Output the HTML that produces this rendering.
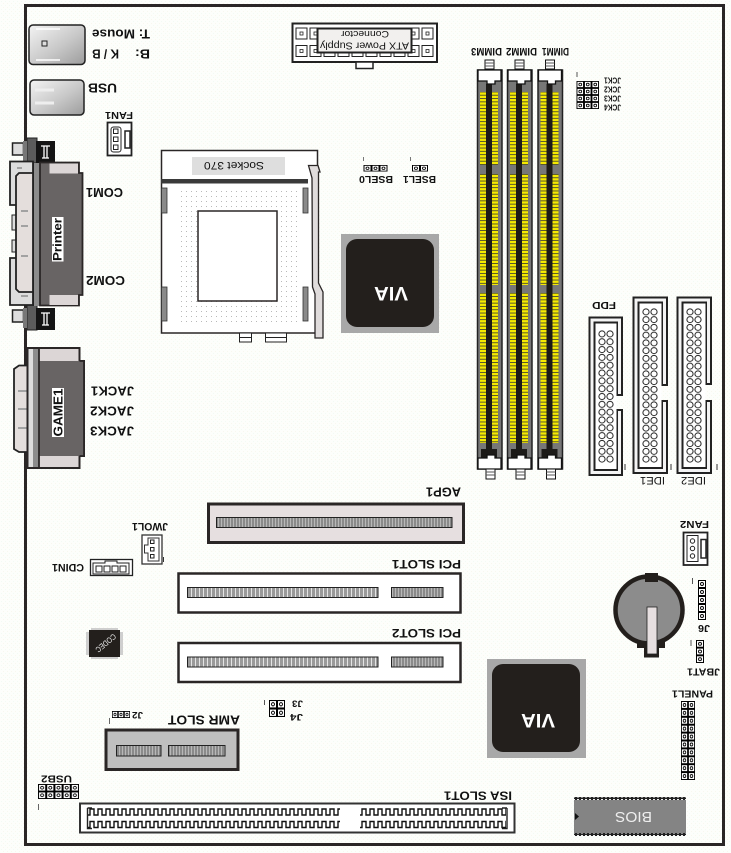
<!DOCTYPE html>
<html><head><meta charset="utf-8"><style>
html,body{margin:0;padding:0;background:#fcfefa;width:731px;height:853px;overflow:hidden}
svg{display:block}
text{font-family:"Liberation Sans",sans-serif;fill:#111}
.b{font-weight:bold}
</style></head><body>
<svg xmlns="http://www.w3.org/2000/svg" width="731" height="853" viewBox="0 0 731 853">
<defs>
<pattern id="bg" width="4" height="4" patternUnits="userSpaceOnUse"><rect width="4" height="4" fill="#fdfefb"/><rect x="1" y="1" width="1" height="1" fill="#f2fbf4"/><rect x="3" y="3" width="1" height="1" fill="#f8f8ee"/></pattern>
<pattern id="pin" width="8" height="8" patternUnits="userSpaceOnUse"><rect x=".5" y=".5" width="7" height="7" fill="#fff" stroke="#000"/><circle cx="4" cy="4" r="1.5" fill="#fff" stroke="#000" stroke-width=".9"/></pattern>
<pattern id="atx" width="14" height="13" patternUnits="userSpaceOnUse"><rect x="1" y="1" width="11" height="11" fill="#fff" stroke="#222"/><rect x="5" y="5" width="3" height="3" fill="#fff" stroke="#222" stroke-width=".8"/></pattern>
<pattern id="cir" width="8" height="8" patternUnits="userSpaceOnUse"><circle cx="4" cy="4" r="3.1" fill="#fff" stroke="#222" stroke-width="1"/></pattern>
<pattern id="st" width="4" height="4" patternUnits="userSpaceOnUse"><rect width="4" height="4" fill="#9a9a9a"/><rect x="3" width="1" height="4" fill="#e4e4e4"/></pattern>
<pattern id="st2" width="3" height="4" patternUnits="userSpaceOnUse"><rect width="3" height="4" fill="#8a8a8a"/><rect x="2" width="1" height="4" fill="#b8b8b8"/></pattern>
<pattern id="yl" width="3" height="3.3" patternUnits="userSpaceOnUse"><rect width="3" height="3.3" fill="#f5ea00"/><rect y="2.4" width="3" height=".9" fill="#4a4a30"/></pattern>
<pattern id="dots" width="5" height="5" patternUnits="userSpaceOnUse"><rect x="1" y="1" width="1" height="1" fill="#b9b9b9"/></pattern>
<pattern id="isa" width="8" height="8" patternUnits="userSpaceOnUse"><path d="M0 7H2V1H6V7H8" fill="none" stroke="#111" stroke-width="1.400"/></pattern>
<pattern id="dash" width="4" height="3" patternUnits="userSpaceOnUse"><rect width="4" height="3" fill="#222"/><rect x="1" y="1" width="2" height="1.5" fill="#eee"/></pattern>
<linearGradient id="gr" x1="0" y1="0" x2="1" y2="1"><stop offset="0" stop-color="#f4f4f4"/><stop offset=".55" stop-color="#c8c8c8"/><stop offset="1" stop-color="#9c9c9c"/></linearGradient>
<g id="dimm">
<rect x="477.5" y="70" width="24.500" height="399" fill="#777" stroke="#222" stroke-width="1.500"/>
<rect x="480" y="92" width="6" height="73" fill="url(#yl)"/><rect x="492" y="92" width="6" height="73" fill="url(#yl)"/>
<rect x="480" y="174" width="6" height="111" fill="url(#yl)"/><rect x="492" y="174" width="6" height="111" fill="url(#yl)"/>
<rect x="480" y="293" width="6" height="150" fill="url(#yl)"/><rect x="492" y="293" width="6" height="150" fill="url(#yl)"/>
<rect x="486" y="84" width="6" height="372" fill="#1c1a18"/>
<path d="M486 443H492V449H497V458H481V449H486Z" fill="#1c1a18"/>
<path d="M478 70H501V81H495V84H487V81H478Z" fill="#fff" stroke="#111" stroke-width="1.300"/>
<path d="M478 469H501V458H495V455H487V458H478Z" fill="#fff" stroke="#111" stroke-width="1.300"/>
<rect x="485" y="60" width="9" height="9" fill="#fff" stroke="#111"/><path d="M485 63H494M485 66H494" stroke="#555"/>
<rect x="486" y="469" width="9" height="10" fill="#fff" stroke="#111"/><path d="M486 472H495M486 475H495" stroke="#555"/>
</g>
<g id="screw"><rect x="27" y="0" width="10" height="25" fill="#5c5c5c" stroke="#222"/><rect x="36" y="3" width="19" height="22" fill="#141414"/><path d="M41 8H50M44 8V20M47 8V20M42 20H49" stroke="#fff" stroke-width="1.300" fill="none"/><rect x="12.500" y="5" width="11" height="12" fill="#ddd" stroke="#222" stroke-width="1.500"/><rect x="23" y="3" width="4" height="20" fill="#777"/></g>
</defs>
<rect width="731" height="853" fill="url(#bg)"/>
<rect x="25.500" y="5.500" width="698" height="839" fill="none" stroke="#2a2626" stroke-width="3"/>

<!-- PS2 / USB -->
<rect x="29" y="25" width="56" height="39.500" rx="4" fill="url(#gr)" stroke="#222" stroke-width="1.500"/>
<path d="M36 29H60M36 60H60" stroke="#fff" stroke-width="1.500"/><rect x="42" y="41" width="5" height="5" fill="#ddd" stroke="#222"/>
<rect x="30" y="80" width="54" height="35" rx="4" fill="url(#gr)" stroke="#222" stroke-width="1.500"/>
<path d="M35 90H54M35 103H54" stroke="#eee" stroke-width="3"/>
<text class="b" transform="translate(150,29.600) rotate(180)" font-size="13" textLength="58" lengthAdjust="spacingAndGlyphs">T: Mouse</text>
<text class="b" transform="translate(150,49.600) rotate(180)" font-size="13" textLength="15" lengthAdjust="spacingAndGlyphs">B:</text>
<text class="b" transform="translate(119,49.600) rotate(180)" font-size="13" textLength="27" lengthAdjust="spacingAndGlyphs">K / B</text>
<text class="b" transform="translate(117,83.600) rotate(180)" font-size="13" textLength="29" lengthAdjust="spacingAndGlyphs">USB</text>
<text class="b" transform="translate(133,111.800) rotate(180)" font-size="10" textLength="28" lengthAdjust="spacingAndGlyphs">FAN1</text>

<!-- FAN1 -->
<rect x="107.500" y="122.500" width="24" height="33" fill="#fff" stroke="#222" stroke-width="1.800"/>
<rect x="111" y="127" width="10" height="25" rx="2.500" fill="#fff" stroke="#222"/>
<rect x="113.500" y="129" width="4.500" height="4.500" fill="#fff" stroke="#222"/><rect x="113.500" y="137" width="4.500" height="4.500" fill="#fff" stroke="#222"/><rect x="113.500" y="145" width="4.500" height="4.500" fill="#fff" stroke="#222"/>
<path d="M125 131H130V148H125Z" fill="#fff" stroke="#222" stroke-width="1.500"/>

<!-- COM -->
<use href="#screw" transform="translate(0,138)"/>
<use href="#screw" transform="translate(0,305)"/>
<path d="M10 161.500H33V205H10Z" fill="#ddd" stroke="#222" stroke-width="1.800"/>
<path d="M10 258H33V305H10Z" fill="#ddd" stroke="#222" stroke-width="1.800"/>
<rect x="12" y="215" width="6" height="15" fill="#ddd" stroke="#222"/>
<rect x="12" y="240" width="6" height="12" fill="#ddd" stroke="#222"/>
<path d="M19 173H33V292H19L16 289V176Z" fill="#e4dedc" stroke="#222" stroke-width="1.800"/>
<rect x="33" y="163" width="6.500" height="143" fill="#8c8c8c"/>
<rect x="33" y="163" width="1" height="143" fill="#222"/>
<path d="M40 162.500H79V173H82.500V295H79V305.500H40Z" fill="#686464" stroke="#2a2626" stroke-width="1.800"/>
<rect x="49.500" y="163.500" width="28.500" height="10" fill="#dcd6d6"/>
<rect x="49.500" y="295" width="28.500" height="10" fill="#dcd6d6"/>
<path d="M21 211H28M21 226H28M21 256H28M21 296H28M17 168H22" stroke="#999" stroke-width="1.800"/>
<rect x="52" y="217" width="11.500" height="44.500" fill="#fff"/>
<text class="b" transform="translate(61.500,261) rotate(-90)" font-size="12" textLength="43" lengthAdjust="spacingAndGlyphs">Printer</text>
<text class="b" transform="translate(123,188) rotate(180)" font-size="12.500" textLength="37" lengthAdjust="spacingAndGlyphs">COM1</text>
<text class="b" transform="translate(125,276) rotate(180)" font-size="12.500" textLength="39" lengthAdjust="spacingAndGlyphs">COM2</text>

<!-- GAME -->
<path d="M19 365.500H28V452H19L14 449V369Z" fill="#e4dedc" stroke="#222" stroke-width="1.800"/>
<path d="M18 391H27M18 409H27M18 428H27" stroke="#999" stroke-width="1.800"/>
<rect x="28" y="348.500" width="5" height="119" fill="#ddd"/>
<rect x="33" y="348.500" width="6.500" height="119" fill="#8c8c8c"/>
<path d="M27.500 348H79.500V361H84V456H79.500V468H27.500Z" fill="none" stroke="#2a2626" stroke-width="2"/>
<rect x="39" y="349" width="39.500" height="118" fill="#dcd6d6"/>
<rect x="39" y="361" width="45" height="95" fill="#686464"/>
<path d="M79.500 361H84V456H79.500M39 349V467" fill="none" stroke="#2a2626" stroke-width="1.800"/>
<rect x="52" y="388" width="12" height="49" fill="#fff"/>
<text class="b" transform="translate(62.500,436.500) rotate(-90)" font-size="13" textLength="48" lengthAdjust="spacingAndGlyphs">GAME1</text>
<text class="b" transform="translate(134,386.600) rotate(180)" font-size="13" textLength="43" lengthAdjust="spacingAndGlyphs">JACK1</text>
<text class="b" transform="translate(134,406.600) rotate(180)" font-size="13" textLength="44" lengthAdjust="spacingAndGlyphs">JACK2</text>
<text class="b" transform="translate(134,426.600) rotate(180)" font-size="13" textLength="44" lengthAdjust="spacingAndGlyphs">JACK3</text>

<!-- ATX -->
<rect x="292.500" y="23.500" width="144.500" height="38.500" fill="#fff" stroke="#222" stroke-width="2"/>
<svg x="295" y="27" width="140" height="13" viewBox="0 0 140 13"><rect width="140" height="13" fill="url(#atx)"/></svg>
<svg x="295" y="44.500" width="140" height="13" viewBox="0 0 140 13"><rect width="140" height="13" fill="url(#atx)"/></svg>
<rect x="317.500" y="28.500" width="94" height="24" fill="#f2f0ee" stroke="#222" stroke-width="2"/>
<text transform="translate(389,31) rotate(180)" font-size="9" textLength="48" lengthAdjust="spacingAndGlyphs">Connector</text>
<text transform="translate(409,42.500) rotate(180)" font-size="10" textLength="89" lengthAdjust="spacingAndGlyphs">ATX Power Supply</text>
<rect x="356" y="62" width="17" height="6.500" fill="#fff" stroke="#222" stroke-width="1.500"/>

<!-- Socket -->
<rect x="161.500" y="150.500" width="156" height="182.500" fill="#fff" stroke="#2a2626" stroke-width="1.500"/>
<rect x="177" y="188" width="121" height="137" fill="url(#dots)"/>
<rect x="192" y="157" width="93" height="18" fill="#dedede"/>
<text transform="translate(264,162) rotate(180)" font-size="11" fill="#444" textLength="60" lengthAdjust="spacingAndGlyphs">Socket 370</text>
<rect x="161" y="179" width="147" height="4.500" fill="#3a3a3a"/>
<rect x="198" y="211" width="79" height="90" fill="#fff" stroke="#2a2626" stroke-width="1.500"/>
<rect x="161.500" y="188" width="5.500" height="25" fill="#8a8a8a" stroke="#333" stroke-width=".8"/>
<rect x="161.500" y="287" width="5.500" height="34" fill="#8a8a8a" stroke="#333" stroke-width=".8"/>
<rect x="303" y="188" width="5" height="25" fill="#8a8a8a" stroke="#333" stroke-width=".8"/>
<rect x="303" y="287" width="5" height="34" fill="#8a8a8a" stroke="#333" stroke-width=".8"/>
<path d="M308.500 165.500H318L320 172H318.500V283L323 292V338H315V294L312.500 287L312 178Z" fill="#e0dcdc" stroke="#2a2626" stroke-width="1.300"/>
<rect x="239.500" y="333" width="12" height="9" fill="#fff" stroke="#222"/><path d="M239.500 337.500H251.500" stroke="#222"/>
<rect x="265.500" y="333" width="21" height="9" fill="#fff" stroke="#222"/><path d="M265.500 337.500H286.500" stroke="#222"/>

<!-- BSEL -->
<svg x="412" y="165" width="16" height="6.500" viewBox="0 0 16 8" preserveAspectRatio="none"><rect width="16" height="8" fill="url(#pin)"/></svg>
<svg x="363.500" y="165" width="24" height="6.500" viewBox="0 0 24 8" preserveAspectRatio="none"><rect width="24" height="8" fill="url(#pin)"/></svg>
<path d="M410.500 157V161M363.500 157V161" stroke="#777"/>
<text class="b" transform="translate(436,176) rotate(180)" font-size="10" textLength="33" lengthAdjust="spacingAndGlyphs">BSEL1</text>
<text class="b" transform="translate(393,176) rotate(180)" font-size="10" textLength="34" lengthAdjust="spacingAndGlyphs">BSEL0</text>

<!-- VIA -->
<rect x="341" y="234" width="98" height="99" fill="#a8a8a8"/>
<rect x="346" y="239" width="88" height="88" rx="11" fill="#231f1c"/>
<text class="b" transform="translate(408,287) rotate(180)" font-size="19" style="fill:#fff" textLength="34" lengthAdjust="spacingAndGlyphs">VIA</text>
<rect x="487" y="659" width="99" height="99" fill="#a8a8a8"/>
<rect x="492" y="664" width="88" height="88" rx="11" fill="#231f1c"/>
<text class="b" transform="translate(555,714) rotate(180)" font-size="19" style="fill:#fff" textLength="34" lengthAdjust="spacingAndGlyphs">VIA</text>

<!-- DIMM -->
<use href="#dimm"/>
<use href="#dimm" transform="translate(30,0)"/>
<use href="#dimm" transform="translate(60.500,0)"/>
<text class="b" transform="translate(502,48) rotate(180)" font-size="11" textLength="31" lengthAdjust="spacingAndGlyphs">DIMM3</text>
<text class="b" transform="translate(537,48) rotate(180)" font-size="11" textLength="31" lengthAdjust="spacingAndGlyphs">DIMM2</text>
<text class="b" transform="translate(569,48) rotate(180)" font-size="11" textLength="27" lengthAdjust="spacingAndGlyphs">DIMM1</text>

<!-- JCK -->
<svg x="576.500" y="81" width="22.500" height="28" viewBox="0 0 24 32" preserveAspectRatio="none"><rect width="24" height="32" fill="url(#pin)"/></svg>
<path d="M577 72V77" stroke="#555"/>
<text class="b" transform="translate(621,77.500) rotate(180)" font-size="8" textLength="17" lengthAdjust="spacingAndGlyphs">JCK1</text>
<text class="b" transform="translate(621,86.500) rotate(180)" font-size="8" textLength="17" lengthAdjust="spacingAndGlyphs">JCK2</text>
<text class="b" transform="translate(621,95.500) rotate(180)" font-size="8" textLength="17" lengthAdjust="spacingAndGlyphs">JCK3</text>
<text class="b" transform="translate(621,104.500) rotate(180)" font-size="8" textLength="17" lengthAdjust="spacingAndGlyphs">JCK4</text>

<!-- FDD / IDE -->
<path d="M622 395V317.500H589.500V475H622V410H617V470H594.500V322.500H617V395Z" fill="#f4f4f4" stroke="#222" stroke-width="2"/>
<rect x="595.500" y="323.500" width="21" height="146" fill="#fff"/>
<path d="M617 322.500H594.500V470H617" fill="none" stroke="#222" stroke-width="2"/>
<svg x="598" y="330" width="16" height="133" viewBox="0 0 16 136" preserveAspectRatio="none"><rect width="16" height="136" fill="url(#cir)"/></svg>
<path d="M667 385V297.500H633.500V473H667V401H662V468H638.500V302.500H662V385Z" fill="#f4f4f4" stroke="#222" stroke-width="2"/>
<rect x="639.500" y="303.500" width="22" height="164" fill="#fff"/>
<path d="M662 302.500H638.500V468H662" fill="none" stroke="#222" stroke-width="2"/>
<svg x="642" y="308" width="16" height="155" viewBox="0 0 16 160" preserveAspectRatio="none"><rect width="16" height="160" fill="url(#cir)"/></svg>
<path d="M711 384V297.500H677.500V473H711V401H706V468H682.500V302.500H706V384Z" fill="#f4f4f4" stroke="#222" stroke-width="2"/>
<rect x="683.500" y="303.500" width="22" height="164" fill="#fff"/>
<path d="M706 302.500H682.500V468H706" fill="none" stroke="#222" stroke-width="2"/>
<svg x="686" y="308" width="16" height="155" viewBox="0 0 16 160" preserveAspectRatio="none"><rect width="16" height="160" fill="url(#cir)"/></svg>
<text transform="translate(616,302) rotate(180)" font-size="10" class="b" textLength="24" lengthAdjust="spacingAndGlyphs">FDD</text>
<text transform="translate(665,477) rotate(180)" font-size="11" textLength="25" lengthAdjust="spacingAndGlyphs">IDE1</text>
<text transform="translate(706,477) rotate(180)" font-size="11" textLength="25" lengthAdjust="spacingAndGlyphs">IDE2</text>
<path d="M625 464V470M671 464V470M717 464V470" stroke="#333"/>

<!-- AGP -->
<rect x="208.500" y="504" width="255" height="38.500" fill="#e6dfe0" stroke="#2a2626" stroke-width="3"/>
<rect x="216.500" y="517.500" width="235.500" height="10" fill="url(#st2)" stroke="#222"/>
<text class="b" transform="translate(461,487.500) rotate(180)" font-size="13" textLength="35" lengthAdjust="spacingAndGlyphs">AGP1</text>
<!-- PCI -->
<rect x="178.500" y="573.500" width="282" height="39" fill="#fff" stroke="#2a2626" stroke-width="2.500"/>
<rect x="187.500" y="587.500" width="190.500" height="10" fill="url(#st)" stroke="#222"/>
<rect x="391.500" y="587.500" width="51.500" height="10" fill="url(#st2)" stroke="#222"/>
<text class="b" transform="translate(461,560) rotate(180)" font-size="12" textLength="69" lengthAdjust="spacingAndGlyphs">PCI SLOT1</text>
<rect x="178.500" y="643" width="282" height="39" fill="#fff" stroke="#2a2626" stroke-width="2.500"/>
<rect x="187.500" y="657" width="190.500" height="10" fill="url(#st)" stroke="#222"/>
<rect x="391.500" y="657" width="51.500" height="10" fill="url(#st2)" stroke="#222"/>
<text class="b" transform="translate(461,629) rotate(180)" font-size="12" textLength="69" lengthAdjust="spacingAndGlyphs">PCI SLOT2</text>

<!-- JWOL / CDIN / CODEC -->
<text class="b" transform="translate(168,523) rotate(180)" font-size="11" textLength="36" lengthAdjust="spacingAndGlyphs">JWOL1</text>
<rect x="142" y="535" width="20" height="29" fill="#fff" stroke="#333" stroke-width="1.300"/>
<path d="M148 538H159V561H148V553H144.500V545H148Z" fill="#fff" stroke="#333"/>
<rect x="150.500" y="540" width="3.500" height="3.500" fill="#fff" stroke="#222"/><rect x="150.500" y="547.500" width="3.500" height="3.500" fill="#fff" stroke="#222"/><rect x="150.500" y="554.500" width="3.500" height="3.500" fill="#fff" stroke="#222"/>
<path d="M163.500 557V562" stroke="#333"/>
<text class="b" transform="translate(84,564) rotate(180)" font-size="11" textLength="32" lengthAdjust="spacingAndGlyphs">CDIN1</text>
<rect x="90.500" y="559.500" width="42" height="16" fill="#fff" stroke="#222" stroke-width="1.300"/>
<path d="M93 563H105V561H117V563H129V574H93Z" fill="#fff" stroke="#222"/>
<rect x="96" y="566" width="6" height="6" fill="#fff" stroke="#222"/><rect x="104" y="566" width="6" height="6" fill="#fff" stroke="#222"/><rect x="112" y="566" width="6" height="6" fill="#fff" stroke="#222"/><rect x="120" y="566" width="6" height="6" fill="#fff" stroke="#222"/>
<rect x="91" y="628" width="27" height="31" fill="#cfcfcf"/><rect x="86" y="632" width="37" height="23" fill="#cfcfcf"/>
<rect x="89" y="630" width="31" height="27" fill="#231f1c"/>
<text transform="translate(104,641) rotate(140)" text-anchor="middle" font-size="8" style="fill:#eee" textLength="24" lengthAdjust="spacingAndGlyphs">CODEC</text>

<!-- Battery -->
<circle cx="649" cy="610" r="33.500" fill="#8c8c8c" stroke="#231f1c" stroke-width="4.500"/>
<rect x="645" y="573" width="13" height="9" fill="#231f1c"/>
<rect x="637" y="641" width="28" height="7" fill="#231f1c"/>
<rect x="644" y="642" width="15" height="15.500" fill="#231f1c"/>
<rect x="647" y="607" width="10" height="47" fill="#e6dfe0" stroke="#222" stroke-width=".8"/>

<!-- FAN2 -->
<text class="b" transform="translate(709,521) rotate(180)" font-size="10" textLength="29" lengthAdjust="spacingAndGlyphs">FAN2</text>
<rect x="683.500" y="532.500" width="24" height="32.500" fill="#fff" stroke="#222" stroke-width="1.800"/>
<rect x="687" y="535.500" width="11" height="26" fill="#fff" stroke="#222"/>
<circle cx="692.500" cy="541" r="2.200" fill="#fff" stroke="#222"/><circle cx="692.500" cy="548.500" r="2.200" fill="#fff" stroke="#222"/><circle cx="692.500" cy="556" r="2.200" fill="#fff" stroke="#222"/>
<path d="M701 539.500H706V558H701Z" fill="#fff" stroke="#222" stroke-width="1.500"/>
<!-- J6 JBAT PANEL -->
<svg x="698" y="580" width="8" height="40" viewBox="0 0 8 40" preserveAspectRatio="none"><rect width="8" height="40" fill="url(#pin)"/></svg>
<text class="b" transform="translate(710,625) rotate(180)" font-size="10" textLength="12" lengthAdjust="spacingAndGlyphs">J6</text>
<path d="M692.500 578V584M691 640V646" stroke="#555"/>
<svg x="696" y="640" width="8" height="23" viewBox="0 0 8 24" preserveAspectRatio="none"><rect width="8" height="24" fill="url(#pin)"/></svg>
<text class="b" transform="translate(720,668.500) rotate(180)" font-size="10" textLength="33" lengthAdjust="spacingAndGlyphs">JBAT1</text>
<text class="b" transform="translate(713,690.500) rotate(180)" font-size="10" textLength="41" lengthAdjust="spacingAndGlyphs">PANEL1</text>
<svg x="681" y="701" width="14" height="79" viewBox="0 0 16 80" preserveAspectRatio="none"><rect width="16" height="80" fill="url(#pin)"/></svg>

<!-- BIOS -->
<rect x="574" y="797" width="112" height="39" fill="#848484"/>
<rect x="574" y="797" width="112" height="3" fill="url(#dash)"/>
<rect x="574" y="833" width="112" height="3" fill="url(#dash)"/>
<path d="M575 813L579 816.500L575 820Z" fill="#111"/>
<text transform="translate(652,812) rotate(180)" font-size="15" style="fill:#eee" textLength="37" lengthAdjust="spacingAndGlyphs">BIOS</text>

<!-- AMR -->
<rect x="106" y="730" width="132" height="39.500" fill="#bfbfbf" stroke="#2a2626" stroke-width="3"/>
<rect x="116.500" y="745.500" width="44.500" height="10.500" fill="url(#st2)" stroke="#222"/>
<rect x="168.500" y="745.500" width="56.500" height="10.500" fill="url(#st2)" stroke="#222"/>
<text class="b" transform="translate(240,715.500) rotate(180)" font-size="13" textLength="72" lengthAdjust="spacingAndGlyphs">AMR SLOT</text>
<text class="b" transform="translate(143,712) rotate(180)" font-size="9" textLength="11" lengthAdjust="spacingAndGlyphs">J2</text>
<svg x="112" y="711" width="18" height="7" viewBox="0 0 24 8" preserveAspectRatio="none"><rect width="24" height="8" fill="url(#pin)"/></svg>
<path d="M109.500 718V724" stroke="#666"/>
<text class="b" transform="translate(303,700.500) rotate(180)" font-size="9" textLength="11" lengthAdjust="spacingAndGlyphs">J3</text>
<text class="b" transform="translate(303,714) rotate(180)" font-size="9" textLength="13" lengthAdjust="spacingAndGlyphs">J4</text>
<svg x="269" y="700" width="16" height="17" viewBox="0 0 16 16" preserveAspectRatio="none"><rect width="16" height="16" fill="url(#pin)"/></svg>
<path d="M264.500 700V705" stroke="#555"/>
<text class="b" transform="translate(72,775.500) rotate(180)" font-size="10" textLength="31" lengthAdjust="spacingAndGlyphs">USB2</text>
<svg x="38" y="784" width="41" height="15" viewBox="0 0 40 16" preserveAspectRatio="none"><rect width="40" height="16" fill="url(#pin)"/></svg>
<path d="M38.500 804V810" stroke="#666"/>

<!-- ISA -->
<text class="b" transform="translate(512,791.500) rotate(180)" font-size="12" textLength="68" lengthAdjust="spacingAndGlyphs">ISA SLOT1</text>
<rect x="80" y="803.500" width="434.500" height="29" fill="#fff" stroke="#333" stroke-width="2"/>
<path d="M87.500 808V828.500H92M87.500 808H92M507 808V828.500H502M507 808H502" fill="none" stroke="#222" stroke-width="1.400"/>
<svg x="88" y="808" width="252" height="8" viewBox="0 0 252 8"><rect width="252" height="8" fill="url(#isa)"/></svg>
<svg x="88" y="820.500" width="252" height="8" viewBox="0 0 252 8"><rect width="252" height="8" fill="url(#isa)"/></svg>
<svg x="360" y="808" width="146" height="8" viewBox="0 0 146 8"><rect width="146" height="8" fill="url(#isa)"/></svg>
<svg x="360" y="820.500" width="146" height="8" viewBox="0 0 146 8"><rect width="146" height="8" fill="url(#isa)"/></svg>
</svg>
</body></html>
